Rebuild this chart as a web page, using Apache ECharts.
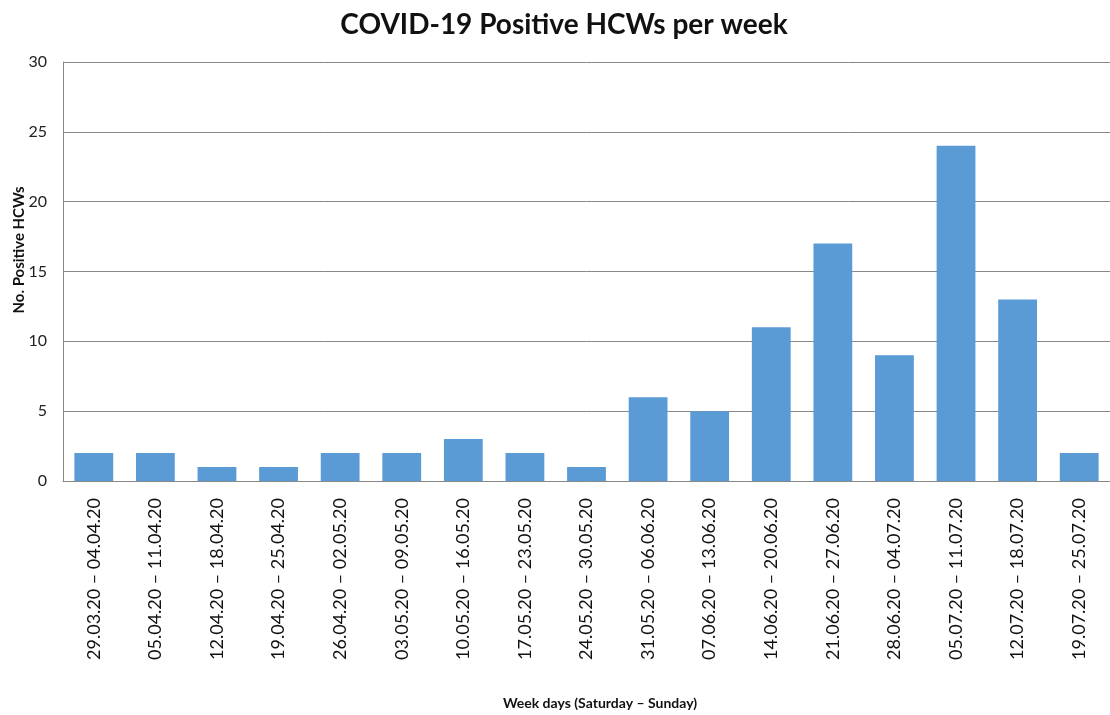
<!DOCTYPE html>
<html>
<head>
<meta charset="utf-8">
<script src="https://cdn.jsdelivr.net/npm/echarts@6/dist/echarts.min.js"></script>
<style>
  html, body { margin: 0; padding: 0; background: #fff; }
  #chart { width: 1110px; height: 715px; }
</style>
</head>
<body>
<div id="chart"></div>
<script>
// Weekly COVID-19 positive healthcare workers
const weeks = [
  '29.03.20 – 04.04.20', '05.04.20 – 11.04.20', '12.04.20 – 18.04.20',
  '19.04.20 – 25.04.20', '26.04.20 – 02.05.20', '03.05.20 – 09.05.20',
  '10.05.20 – 16.05.20', '17.05.20 – 23.05.20', '24.05.20 – 30.05.20',
  '31.05.20 – 06.06.20', '07.06.20 – 13.06.20', '14.06.20 – 20.06.20',
  '21.06.20 – 27.06.20', '28.06.20 – 04.07.20', '05.07.20 – 11.07.20',
  '12.07.20 – 18.07.20', '19.07.20 – 25.07.20'
];
const positives = [2, 2, 1, 1, 2, 2, 3, 2, 1, 6, 5, 11, 17, 9, 24, 13, 2];
const yTicks = { min: 0, max: 30, step: 5 };
const titleText = 'COVID-19 Positive HCWs per week';
const xTitle = 'Week days (Saturday – Sunday)';
const yTitle = 'No. Positive HCWs';

const font = 'Lato, "Open Sans", sans-serif';
const chart = echarts.init(document.getElementById('chart'));
chart.setOption({
  animation: false,
  backgroundColor: '#ffffff',
  title: {
    text: titleText,
    left: 559,
    textAlign: 'center',
    top: 6,
    textStyle: { fontFamily: font, fontWeight: 'bold', fontSize: 28, color: '#111' }
  },
  grid: { left: 63, right: -12, top: 62, bottom: 234, containLabel: false },
  xAxis: {
    type: 'category',
    data: weeks,
    axisLine: { show: true, lineStyle: { color: '#888', width: 1 } },
    axisTick: { show: false },
    axisLabel: {
      rotate: 90,
      interval: 0,
      margin: 17,
      fontFamily: font,
      fontSize: 18,
      color: '#111'
    }
  },
  yAxis: {
    type: 'value',
    min: yTicks.min,
    max: yTicks.max,
    interval: yTicks.step,
    axisLine: { show: true, lineStyle: { color: '#888', width: 1 } },
    axisTick: { show: false },
    axisLabel: { margin: 16, fontFamily: font, fontSize: 16, color: '#222' },
    splitLine: { show: true, lineStyle: { color: '#888', width: 1 } }
  },
  graphic: [
    {
      type: 'text',
      x: 600,
      y: 703,
      style: {
        text: xTitle,
        fontFamily: font, fontWeight: 'bold', fontSize: 14, fill: '#111',
        align: 'center', verticalAlign: 'middle'
      }
    },
    {
      type: 'text',
      x: 19,
      y: 250,
      rotation: Math.PI / 2,
      style: {
        text: yTitle,
        fontFamily: font, fontWeight: 'bold', fontSize: 15, fill: '#111',
        align: 'center', verticalAlign: 'middle'
      }
    }
  ],
  series: [{
    type: 'bar',
    data: positives,
    barWidth: '63%',
    itemStyle: { color: '#5b9bd5' }
  }]
});
</script>
</body>
</html>
